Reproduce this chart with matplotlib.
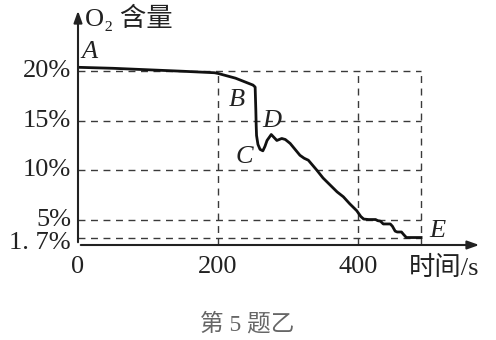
import numpy as np
import matplotlib
matplotlib.use('Agg')
import matplotlib.pyplot as plt
from matplotlib.transforms import offset_copy

# Data #
time_s = [0, 50, 100, 150, 195, 200, 225, 250, 253, 254, 254.5, 255, 257, 260, 264, 267, 270, 276,
          280, 284, 291, 296, 303, 310, 317, 323, 329, 335, 341, 350, 360, 370, 379, 388, 398,
          404, 408, 415, 425, 428, 432, 436, 446, 449, 453, 456, 462, 465, 469, 490]
o2_pct = [20.4, 20.3, 20.15, 20.0, 19.85, 19.78, 19.3, 18.6, 18.4, 16.0, 14.5, 13.5, 12.6, 12.1, 11.95, 12.4, 13.0, 13.6,
          13.3, 13.0, 13.2, 13.1, 12.7, 12.1, 11.5, 11.2, 11.0, 10.5, 10.0, 9.2, 8.5, 7.8, 7.3, 6.6, 5.9,
          5.3, 5.05, 5.0, 5.0, 4.8, 4.7, 4.2, 4.2, 3.8, 2.9, 2.75, 2.75, 2.3, 1.75, 1.75]

y_ticks = [20, 15, 10, 5, 1.7]
y_labels = ['20%', '15%', '10%', '5%', '1. 7%']
x_ticks = [0, 200, 400]
x_labels = ['0', '200', '400']
x_grid = [200, 400, 490]
t_end = 490

point_names = ['A', 'B', 'C', 'D', 'E']
point_x = [16, 227, 237, 277, 513]
point_y = [21.9, 17.07, 11.3, 14.94, 2.93]

# below 5% the drawing is squeezed #
def fwd(y):
    y = np.asarray(y, dtype=float)
    return np.where(y >= 5, y, 5 - (5 - y) * 0.56)

def inv(t):
    t = np.asarray(t, dtype=float)
    return np.where(t >= 5, t, 5 - (5 - t) / 0.56)

serif = ['Liberation Serif', 'DejaVu Serif']
cjk = ['Liberation Serif', 'Noto Sans CJK SC', 'DejaVu Sans']
ink = '#222222'

fig = plt.figure(figsize=(4.96, 3.40), dpi=100)
ax = fig.add_axes([78/496, 95/340, 404/496, 237/340])
ax.set_yscale('function', functions=(fwd, inv))
ax.set_xlim(0, 577)
ax.set_ylim(0.4, 26.4)

for s in ax.spines.values():
    s.set_visible(False)

# dashed guide lines #
for yv in y_ticks:
    ax.plot([0, t_end], [yv, yv], color='#3a3a3a', lw=1.0, dashes=(5, 4), zorder=1)
for xv in x_grid:
    ax.plot([xv, xv], [0.4, 20], color='#3a3a3a', lw=1.0, dashes=(5, 4), zorder=1)

ax.plot(time_s, o2_pct, color='#111111', lw=2.0, zorder=3, solid_joinstyle='round')

# axes with arrows #
ax.annotate('', xy=(1, 0), xytext=(0, 0), xycoords='axes fraction',
            arrowprops=dict(arrowstyle='-|>,head_length=0.7,head_width=0.25', color=ink, lw=1.5))
ax.annotate('', xy=(0, 1), xytext=(0, 0), xycoords='axes fraction',
            arrowprops=dict(arrowstyle='-|>,head_length=0.7,head_width=0.25', color=ink, lw=1.5))

# y labels as texts so 1.7% can sit a bit lower #
ax.set_yticks([])
ylab_tr = ax.get_yaxis_transform()
for yv, lab in zip(y_ticks, y_labels):
    dy = -4 if yv < 5 else 0
    tr = offset_copy(ylab_tr, fig=fig, x=-5, y=dy, units='points')
    ax.text(0, yv, lab, transform=tr, family=serif, fontsize=19, color=ink, ha='right', va='center')

ax.set_xticks(x_ticks)
ax.set_xticklabels(x_labels, family=serif, fontsize=19, color=ink)
ax.tick_params(length=0, pad=8)
ax.minorticks_off()

for name, px, py in zip(point_names, point_x, point_y):
    ax.text(px, py, name, family=serif, style='italic', fontsize=19, color=ink,
            ha='center', va='center')

fig.text(85/496, 1 - 17/340, 'O₂ 含量', family=cjk, fontsize=19, color=ink, ha='left', va='center')
fig.text(409/496, 1 - 268/340, '时间/s', family=cjk, fontsize=19, color=ink, ha='left', va='center')
fig.text(247/496, 1 - 324/340, '第 5 题乙', family=cjk, fontsize=17, color='#666666', ha='center', va='center')

fig.savefig('out.png', dpi=100)
